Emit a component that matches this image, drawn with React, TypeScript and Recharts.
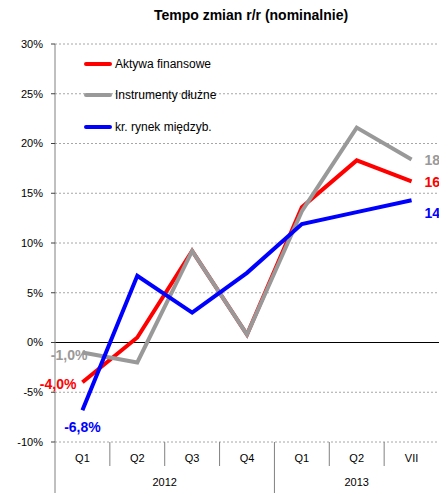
import { LineChart, Line, XAxis, YAxis, CartesianGrid, ReferenceLine, LabelList } from 'recharts';

const categories = ['Q1', 'Q2', 'Q3', 'Q4', 'Q1', 'Q2', 'VII'];
const years = ['2012', '2012', '2012', '2012', '2013', '2013', '2013'];
const aktywa = [-4.0, 0.5, 9.2, 0.8, 13.6, 18.3, 16.2];
const dluzne = [-1.0, -2.0, 9.2, 0.8, 13.2, 21.6, 18.4];
const miedzyb = [-6.8, 6.7, 3.0, 7.0, 11.9, 13.1, 14.3];
const yTicks = [-10, -5, 0, 5, 10, 15, 20, 25, 30];

const series = [
  { key: 'aktywa', name: 'Aktywa finansowe', color: '#ff0000' },
  { key: 'dluzne', name: 'Instrumenty dłużne', color: '#999999' },
  { key: 'miedzyb', name: 'kr. rynek międzyb.', color: '#0000ff' },
];

const data = categories.map((c, i) => ({
  id: `${years[i]}-${c}`,
  aktywa: aktywa[i],
  dluzne: dluzne[i],
  miedzyb: miedzyb[i],
}));

const W = 439;
const H = 493;
const TOP = 44;
const LEFT = 55;
const BOTTOM = 442;
const BAND = (W - LEFT) / categories.length;
const FONT = '"Liberation Sans", Arial, sans-serif';

const fmt = (v: number) => `${v.toFixed(1).replace('.', ',')}%`;

const XTick = (props: any) => {
  const { x, payload } = props;
  const i = props.index ?? payload.index;
  const last = categories.length - 1;
  const yearStart = i === 0 || years[i] !== years[i - 1];
  let span = 0;
  if (yearStart) {
    while (i + span <= last && years[i + span] === years[i]) span++;
  }
  const left = x - BAND / 2;
  return (
    <g>
      <text x={x} y={462} textAnchor="middle" fontSize={11} fill="#000" fontFamily={FONT}>
        {categories[i]}
      </text>
      {i < last && (
        <line
          x1={x + BAND / 2}
          x2={x + BAND / 2}
          y1={BOTTOM}
          y2={years[i] !== years[i + 1] ? H : BOTTOM + 24}
          stroke="#808080"
        />
      )}
      {i === 0 && <line x1={left} x2={left} y1={BOTTOM} y2={H} stroke="#808080" />}
      {yearStart && (
        <text x={left + (span * BAND) / 2} y={486} textAnchor="middle" fontSize={11} fill="#000" fontFamily={FONT}>
          {years[i]}
        </text>
      )}
    </g>
  );
};

const endLabel = (color: string, start: { dx: number; dy: number; anchor: string }, end: { dx: number; dy: number }) =>
  (props: any) => {
    const { x, y, value, index } = props;
    const last = categories.length - 1;
    if (index !== 0 && index !== last) return null;
    const o = index === 0 ? start : { ...end, anchor: 'start' };
    return (
      <text
        x={x + o.dx}
        y={y + o.dy}
        textAnchor={o.anchor as any}
        dominantBaseline="central"
        fontSize={14}
        fontWeight="bold"
        fill={color}
        fontFamily={FONT}
      >
        {fmt(Number(value))}
      </text>
    );
  };

const labelPos: Record<string, { s: { dx: number; dy: number; anchor: string }; e: { dx: number; dy: number } }> = {
  aktywa: { s: { dx: -6, dy: 2, anchor: 'end' }, e: { dx: 13, dy: 1 } },
  dluzne: { s: { dx: 5, dy: 3, anchor: 'end' }, e: { dx: 13, dy: 1 } },
  miedzyb: { s: { dx: 0, dy: 17, anchor: 'middle' }, e: { dx: 13, dy: 13 } },
};

export default function App() {
  return (
    <div style={{ position: 'absolute', left: 0, top: 0, width: W, height: H, background: '#fff', overflow: 'hidden' }}>
      <div
        style={{
          position: 'absolute',
          left: 251,
          top: 7,
          transform: 'translateX(-50%)',
          whiteSpace: 'nowrap',
          fontFamily: FONT,
          fontWeight: 'bold',
          fontSize: 14,
          color: '#000',
          zIndex: 2,
        }}
      >
        Tempo zmian r/r (nominalnie)
      </div>
      <div style={{ position: 'absolute', left: 84, top: 48, fontFamily: FONT, fontSize: 12, color: '#000', zIndex: 2 }}>
        {series.map((s) => (
          <div key={s.key} style={{ display: 'flex', alignItems: 'center', height: 31.5 }}>
            <div style={{ width: 28, height: 4, background: s.color, borderRadius: 2, marginRight: 3 }} />
            <span>{s.name}</span>
          </div>
        ))}
      </div>
      <LineChart width={W} height={H} data={data} margin={{ top: TOP, right: 0, left: 0, bottom: 0 }}>
        <CartesianGrid horizontal vertical={false} stroke="#a6a6a6" strokeDasharray="2 2" />
        <XAxis
          dataKey="id"
          height={H - BOTTOM}
          padding={{ left: BAND / 2, right: BAND / 2 }}
          axisLine={false}
          tickLine={false}
          interval={0}
          tick={<XTick />}
        />
        <YAxis
          width={LEFT}
          domain={[-10, 30]}
          ticks={yTicks}
          interval={0}
          tickFormatter={(v) => `${v}%`}
          tick={{ fontSize: 11, fill: '#000', fontFamily: FONT }}
          axisLine={{ stroke: '#808080' }}
          tickLine={{ stroke: '#404040' }}
          tickSize={4}
          tickMargin={8}
        />
        <ReferenceLine y={0} stroke="#000" strokeWidth={1} />
        {series.map((s) => (
          <Line
            key={s.key}
            type="linear"
            dataKey={s.key}
            name={s.name}
            stroke={s.color}
            strokeWidth={4}
            dot={false}
            activeDot={false}
            isAnimationActive={false}
          >
            <LabelList dataKey={s.key} content={endLabel(s.color, labelPos[s.key].s, labelPos[s.key].e)} />
          </Line>
        ))}
      </LineChart>
    </div>
  );
}
